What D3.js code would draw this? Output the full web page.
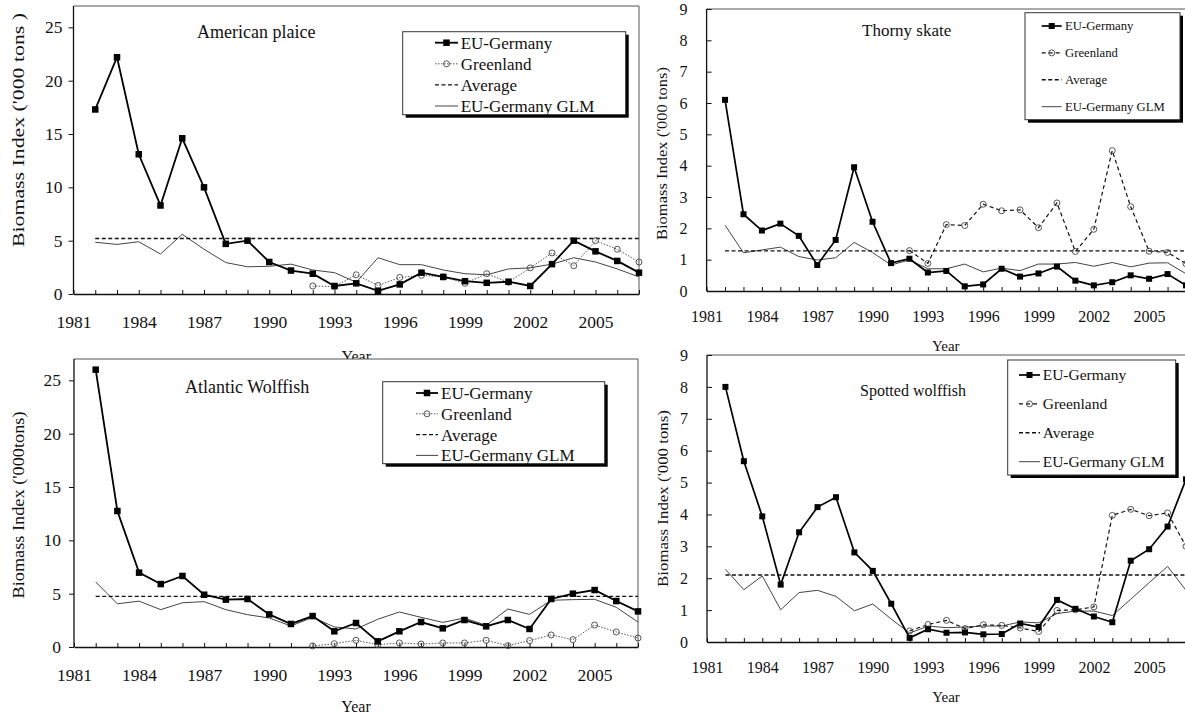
<!DOCTYPE html>
<html>
<head>
<meta charset="utf-8">
<script src="https://cdnjs.cloudflare.com/ajax/libs/d3/7.8.5/d3.min.js"></script>
<style>
  body { margin: 0; background: #fff; }
  svg { display: block; font-family: "Liberation Serif", "Times New Roman", serif; }
</style>
</head>
<body>
<div id="chart"></div>
<script>
// categories
var years = [1982, 1983, 1984, 1985, 1986, 1987, 1988, 1989, 1990, 1991, 1992, 1993, 1994,
             1995, 1996, 1997, 1998, 1999, 2000, 2001, 2002, 2003, 2004, 2005, 2006, 2007];
var greenlandYears = [1992, 1993, 1994, 1995, 1996, 1997, 1998, 1999, 2000, 2001, 2002, 2003,
                      2004, 2005, 2006, 2007];
var xTickLabels = [1981, 1984, 1987, 1990, 1993, 1996, 1999, 2002, 2005];
var seriesNames = ["EU-Germany", "Greenland", "Average", "EU-Germany GLM"];

// American plaice
var plaiceEU = [17.3, 22.2, 13.1, 8.3, 14.6, 10.0, 4.7, 5.0, 3.0, 2.2, 1.9, 0.75, 1.0, 0.3,
                0.9, 2.0, 1.6, 1.2, 1.05, 1.15, 0.75, 2.8, 5.0, 4.0, 3.1, 2.0];
var plaiceGreenland = [0.75, 0.7, 1.8, 0.8, 1.55, 1.75, 1.6, 1.0, 1.9, 1.1, 2.45, 3.85, 2.65, 5.0, 4.2, 3.0];
var plaiceGLM = [4.85, 4.65, 4.9, 3.75, 5.6, 4.2, 2.95, 2.55, 2.6, 2.8, 2.25, 2.0, 1.1, 3.4,
                 2.75, 2.75, 2.25, 1.9, 1.8, 2.35, 2.45, 2.8, 3.4, 3.0, 2.35, 1.6];
var plaiceAvg = 5.2;

// Thorny skate
var skateEU = [6.1, 2.45, 1.93, 2.15, 1.76, 0.83, 1.63, 3.95, 2.21, 0.89, 1.03, 0.59, 0.64, 0.15,
               0.21, 0.71, 0.46, 0.56, 0.78, 0.33, 0.18, 0.28, 0.5, 0.39, 0.54, 0.18];
var skateGreenland = [1.29, 0.88, 2.12, 2.09, 2.77, 2.56, 2.59, 2.02, 2.81, 1.26, 1.97, 4.48, 2.69, 1.27, 1.23, 0.87];
var skateGLM = [2.1, 1.22, 1.31, 1.4, 1.1, 0.99, 1.06, 1.55, 1.23, 0.83, 0.99, 0.71, 0.71, 0.86,
                0.61, 0.73, 0.65, 0.86, 0.86, 0.91, 0.79, 0.91, 0.77, 0.89, 0.9, 0.55];
var skateAvg = 1.28;

// Atlantic Wolffish
var atlanticEU = [26.0, 12.75, 6.97, 5.9, 6.66, 4.9, 4.44, 4.5, 3.06, 2.16, 2.9, 1.47, 2.25, 0.53,
                  1.47, 2.34, 1.75, 2.53, 1.94, 2.53, 1.69, 4.5, 5.0, 5.34, 4.31, 3.34];
var atlanticGreenland = [0.1, 0.31, 0.63, 0.22, 0.38, 0.28, 0.38, 0.38, 0.63, 0.13, 0.6, 1.13, 0.69, 2.06, 1.41, 0.84];
var atlanticGLM = [6.1, 4.05, 4.3, 3.5, 4.15, 4.25, 3.5, 3.03, 2.72, 1.97, 2.78, 1.88, 1.69, 2.6,
                   3.28, 2.78, 2.31, 2.72, 2.03, 3.56, 3.06, 4.38, 4.44, 4.47, 3.72, 2.34];
var atlanticAvg = 4.75;

// Spotted wolffish
var spottedEU = [8.0, 5.67, 3.94, 1.8, 3.44, 4.23, 4.54, 2.81, 2.23, 1.2, 0.13, 0.4, 0.29, 0.3,
                 0.24, 0.25, 0.58, 0.47, 1.32, 1.04, 0.8, 0.62, 2.55, 2.91, 3.62, 5.1];
var spottedGreenland = [0.35, 0.55, 0.68, 0.42, 0.54, 0.52, 0.44, 0.33, 0.99, 1.01, 1.1, 3.97, 4.16, 3.96, 4.05, 3.0];
var spottedGLM = [2.28, 1.64, 2.07, 1.01, 1.55, 1.62, 1.43, 0.98, 1.19, 0.72, 0.28, 0.5, 0.45, 0.47,
                  0.5, 0.5, 0.63, 0.6, 0.89, 0.97, 0.97, 0.83, 1.34, 1.86, 2.37, 1.62];
var spottedAvg = 2.1;

var yTicksBig = [0, 5, 10, 15, 20, 25];
var yTicksSmall = [0, 1, 2, 3, 4, 5, 6, 7, 8, 9];

var W = 1185, H = 719;
var svg = d3.select("#chart").append("svg")
    .attr("width", W)
    .attr("height", H);

function drawPanel(p) {
    var g = svg.append("g");

    var x = d3.scaleLinear().domain([1981, 2007]).range([p.left, p.right]);
    var y = d3.scaleLinear().domain([0, p.yMax]).range([p.bottom, p.top]);

    // plot area (white, covers anything underneath)
    g.append("rect")
        .attr("x", p.left).attr("y", p.top)
        .attr("width", p.right - p.left).attr("height", p.bottom - p.top)
        .attr("fill", "#fff");

    // top / right border
    g.append("path")
        .attr("d", "M" + p.left + "," + p.top + "H" + p.right + "V" + p.bottom)
        .attr("fill", "none").attr("stroke", "#555").attr("stroke-width", 1);

    // axes
    var xAxis = d3.axisBottom(x)
        .tickValues([1981].concat(years))
        .tickSizeInner(-4).tickSizeOuter(0)
        .tickPadding(p.xPad)
        .tickFormat(function(d) { return xTickLabels.indexOf(d) >= 0 ? d : ""; });

    var gx = g.append("g")
        .attr("transform", "translate(0," + p.bottom + ")")
        .call(xAxis);

    var yAxis = d3.axisLeft(y)
        .tickValues(p.yTicks)
        .tickSizeInner(p.yTickIn ? -5 : 5).tickSizeOuter(0)
        .tickPadding(p.yPad);

    var gy = g.append("g")
        .attr("transform", "translate(" + p.left + ",0)")
        .call(yAxis);

    [gx, gy].forEach(function(a) {
        a.select(".domain").attr("stroke", "#111").attr("stroke-width", 1.3);
        a.selectAll(".tick line").attr("stroke", "#111");
        a.selectAll(".tick text")
            .attr("fill", "#111")
            .style("font-family", "Liberation Serif, serif")
            .style("font-size", p.tickSize + "px");
    });
    // the y axis domain should span the full frame height
    gy.select(".domain").attr("d", "M0," + p.bottom + "V" + p.top);

    // axis titles
    g.append("text")
        .attr("transform", "translate(" + p.yTitleX + "," + p.yTitleY + ") rotate(-90)")
        .attr("dy", "0.35em")
        .attr("text-anchor", "middle")
        .attr("textLength", p.yTitleLen)
        .attr("lengthAdjust", "spacingAndGlyphs")
        .style("font-size", p.yTitleSize + "px")
        .attr("fill", "#111")
        .text(p.yTitle);

    g.append("text")
        .attr("x", (p.left + Math.min(p.right, W)) / 2 + p.yearDx)
        .attr("y", p.yearY)
        .attr("text-anchor", "middle")
        .style("font-size", p.yearSize + "px")
        .attr("fill", "#111")
        .text("Year");

    // title
    g.append("text")
        .attr("x", p.titleX)
        .attr("y", p.titleY)
        .attr("dy", "0.35em")
        .style("font-size", p.titleSize + "px")
        .attr("fill", "#111")
        .text(p.title);

    var line = d3.line()
        .x(function(d) { return x(d[0]); })
        .y(function(d) { return y(d[1]); });

    // GLM
    g.append("path")
        .datum(d3.zip(years, p.glm))
        .attr("d", line)
        .attr("fill", "none").attr("stroke", "#444").attr("stroke-width", 1);

    // Average
    g.append("path")
        .datum([[years[0], p.avg], [years[years.length - 1], p.avg]])
        .attr("d", line)
        .attr("fill", "none").attr("stroke", "#111")
        .attr("stroke-width", 1.4).attr("stroke-dasharray", "4,2.5");

    // Greenland
    var glData = d3.zip(greenlandYears, p.gl);
    g.append("path")
        .datum(glData)
        .attr("d", line)
        .attr("fill", "none").attr("stroke", p.glColor)
        .attr("stroke-width", p.glWidth).attr("stroke-dasharray", p.glDash);

    g.selectAll(".gl")
        .data(glData)
        .enter().append("circle")
        .attr("cx", function(d) { return x(d[0]); })
        .attr("cy", function(d) { return y(d[1]); })
        .attr("r", 3)
        .attr("fill", "none").attr("stroke", "#444").attr("stroke-width", 0.9);

    // EU-Germany
    var euData = d3.zip(years, p.eu);
    g.append("path")
        .datum(euData)
        .attr("d", line)
        .attr("fill", "none").attr("stroke", "#000").attr("stroke-width", p.euWidth);

    g.selectAll(".eu")
        .data(euData)
        .enter().append("rect")
        .attr("x", function(d) { return x(d[0]) - p.sq / 2; })
        .attr("y", function(d) { return y(d[1]) - p.sq / 2; })
        .attr("width", p.sq).attr("height", p.sq)
        .attr("fill", "#000");

    // legend
    var L = p.legend;
    g.append("rect")
        .attr("x", L.x + 3).attr("y", L.y + 3)
        .attr("width", L.w).attr("height", L.h)
        .attr("fill", "#000");
    g.append("rect")
        .attr("x", L.x).attr("y", L.y)
        .attr("width", L.w).attr("height", L.h)
        .attr("fill", "#fff").attr("stroke", "#333").attr("stroke-width", 1);

    seriesNames.forEach(function(name, i) {
        var cy = L.y + L.first + i * L.row;
        var s = g.append("line")
            .attr("x1", L.sx0).attr("x2", L.sx1)
            .attr("y1", cy).attr("y2", cy)
            .attr("fill", "none");
        var mid = (L.sx0 + L.sx1) / 2;
        if (i == 0) {
            s.attr("stroke", "#000").attr("stroke-width", p.euWidth);
            g.append("rect")
                .attr("x", mid - p.sq / 2).attr("y", cy - p.sq / 2)
                .attr("width", p.sq).attr("height", p.sq).attr("fill", "#000");
        }
        else if (i == 1) {
            s.attr("stroke", p.glColor).attr("stroke-width", p.glWidth)
                .attr("stroke-dasharray", p.glDash);
            g.append("circle")
                .attr("cx", mid).attr("cy", cy).attr("r", 3)
                .attr("fill", "none").attr("stroke", "#444").attr("stroke-width", 0.9);
        }
        else if (i == 2) {
            s.attr("stroke", "#111").attr("stroke-width", 1.4).attr("stroke-dasharray", "4,2.5");
        }
        else {
            s.attr("stroke", "#444").attr("stroke-width", 1);
        }
        g.append("text")
            .attr("x", L.tx).attr("y", cy)
            .attr("dy", "0.35em")
            .style("font-size", L.size + "px")
            .attr("fill", "#111")
            .text(name);
    });
}

// American plaice
drawPanel({
    title: "American plaice", eu: plaiceEU, gl: plaiceGreenland, glm: plaiceGLM, avg: plaiceAvg,
    yMax: 27, yTicks: yTicksBig, left: 73.5, right: 639, top: 6, bottom: 294,
    xPad: 22, yPad: 6, yTickIn: false, tickSize: 17.5,
    yTitle: "Biomass Index ('000 tons )", yTitleX: 18, yTitleY: 130, yTitleLen: 234, yTitleSize: 17.5,
    yearY: 362, yearDx: 0, yearSize: 16,
    titleX: 197, titleY: 32, titleSize: 18,
    glColor: "#555", glWidth: 1, glDash: "1.5,1.5", euWidth: 1.8, sq: 6.5,
    legend: { x: 402.7, y: 31.7, w: 223, h: 83, first: 11, row: 21.1, sx0: 435, sx1: 458, tx: 460.7, size: 17 }
});

// Thorny skate
drawPanel({
    title: "Thorny skate", eu: skateEU, gl: skateGreenland, glm: skateGLM, avg: skateAvg,
    yMax: 9, yTicks: yTicksSmall, left: 706.6, right: 1186, top: 9, bottom: 291,
    xPad: 19.5, yPad: 19, yTickIn: true, tickSize: 16,
    yTitle: "Biomass Index ('000 tons)", yTitleX: 661.7, yTitleY: 153.5, yTitleLen: 173, yTitleSize: 15,
    yearY: 351, yearDx: 0, yearSize: 15,
    titleX: 862, titleY: 30, titleSize: 17,
    glColor: "#111", glWidth: 1.2, glDash: "4,3", euWidth: 1.7, sq: 6,
    legend: { x: 1025, y: 12.7, w: 155, h: 107, first: 13.3, row: 26.9, sx0: 1041.7, sx1: 1061.7, tx: 1065, size: 12.7 }
});

// Atlantic Wolffish
drawPanel({
    title: "Atlantic Wolffish", eu: atlanticEU, gl: atlanticGreenland, glm: atlanticGLM, avg: atlanticAvg,
    yMax: 27, yTicks: yTicksBig, left: 74, right: 638, top: 359, bottom: 647,
    xPad: 22, yPad: 8, yTickIn: false, tickSize: 17.5,
    yTitle: "Biomass Index ('000tons)", yTitleX: 18.3, yTitleY: 505, yTitleLen: 187, yTitleSize: 17,
    yearY: 712, yearDx: 0, yearSize: 16,
    titleX: 185, titleY: 386.7, titleSize: 18,
    glColor: "#555", glWidth: 1, glDash: "1.5,1.5", euWidth: 1.8, sq: 6.5,
    legend: { x: 382.7, y: 381.7, w: 222, h: 82, first: 11.3, row: 20.8, sx0: 416, sx1: 438, tx: 441, size: 17 }
});

// Spotted wolffish
drawPanel({
    title: "Spotted wolffish", eu: spottedEU, gl: spottedGreenland, glm: spottedGLM, avg: spottedAvg,
    yMax: 9, yTicks: yTicksSmall, left: 707, right: 1186, top: 355, bottom: 642,
    xPad: 19.5, yPad: 19, yTickIn: true, tickSize: 16,
    yTitle: "Biomass Index ('000 tons)", yTitleX: 663, yTitleY: 498.5, yTitleLen: 177, yTitleSize: 15,
    yearY: 702, yearDx: 0, yearSize: 15,
    titleX: 860, titleY: 390, titleSize: 16,
    glColor: "#111", glWidth: 1.2, glDash: "4,3", euWidth: 1.7, sq: 6,
    legend: { x: 1007.7, y: 360, w: 168, h: 115, first: 15, row: 28.9, sx0: 1019, sx1: 1040, tx: 1042.7, size: 15.5 }
});
</script>
</body>
</html>
